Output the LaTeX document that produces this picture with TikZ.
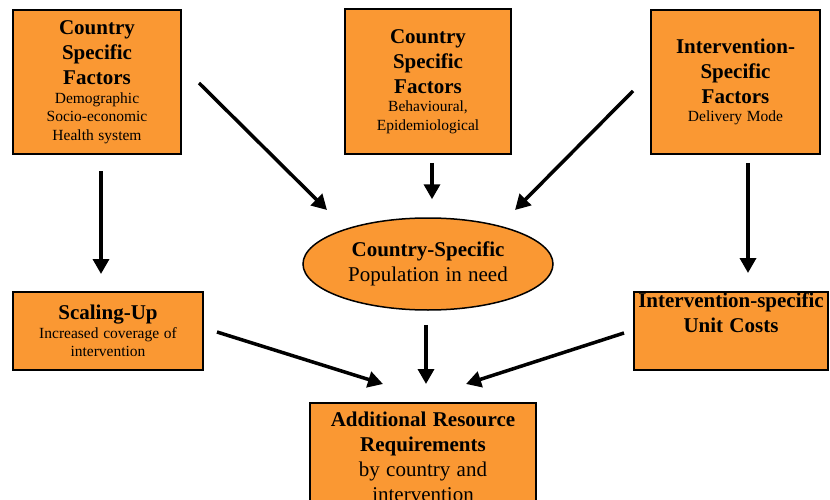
\documentclass[tikz,border=0pt]{standalone}
\usepackage{fontspec}
\setmainfont{Liberation Serif}
\usetikzlibrary{arrows.meta,shapes.geometric}
\definecolor{facorange}{RGB}{250,152,51}
\newcommand{\boxtitle}[1]{{\fontsize{21}{25}\selectfont\bfseries\spaceskip=0.3em #1\par}}
\newcommand{\boxnote}[1]{{\fontsize{15.5}{18.5}\selectfont\spaceskip=0.3em #1\par}}
\newcommand{\boxtext}[1]{{\fontsize{21}{25}\selectfont\spaceskip=0.3em #1\par}}

\begin{document}
\begin{tikzpicture}[x=1pt,y=-1pt,>={Triangle[length=15pt,width=16pt]},
  facbox/.style={draw=black,line width=2pt,fill=facorange,inner sep=1pt,align=center},
  conn/.style={->,line width=3.5pt}]
  \useasboundingbox (0,0) rectangle (830,500);
  \clip (0,0) rectangle (830,500);
  % factor boxes
  \node[facbox,minimum width=168pt,minimum height=144pt,text width=164pt] (cs1) at (97,82)
    {\boxtitle{Country\\Specific\\Factors}\boxnote{Demographic\\Socio-economic\\Health system}};
  \node[facbox,minimum width=166pt,minimum height=145pt,text width=162pt] (cs2) at (428,81.5)
    {\boxtitle{Country\\Specific\\Factors}\boxnote{Behavioural,\\Epidemiological}};
  \node[facbox,minimum width=169pt,minimum height=144pt,text width=165pt] (cs3) at (735.5,82)
    {\boxtitle{Intervention-\\Specific\\Factors}\boxnote{Delivery Mode}};
  \node[facbox,ellipse,line width=1.5pt,minimum width=250pt,minimum height=92pt,text width=170pt] (pop) at (428,264)
    {\boxtitle{Country-Specific}\boxtext{Population in need}};
  \node[facbox,minimum width=190pt,minimum height=78pt,text width=186pt] (scale) at (108,331)
    {\boxtitle{Scaling-Up}\boxnote{Increased coverage of\\intervention}};
  \node[facbox,minimum width=194pt,minimum height=78pt] (ucost) at (731,331) {};
  \node[anchor=north,align=center,text width=194pt,inner sep=2pt] (ucosttxt) at (ucost.north)
    {\boxtitle{Intervention-specific\\Unit Costs}};
  \node[facbox,minimum width=226pt,minimum height=108pt,text width=222pt] (res) at (423,457)
    {\boxtitle{Additional Resource\\Requirements}\boxtext{by country and\\intervention}};
  % arrows
  \draw[conn] ([shift={(4,16)}]cs1.south) -- ([shift={(-7,-17)}]scale.north);
  \draw[conn] ([shift={(17,1)}]cs1.east) -- ([shift={(-101,-54)}]pop.center);
  \draw[conn] ([shift={(4,8)}]cs2.south) -- ([shift={(4,-18)}]pop.north);
  \draw[conn] ([shift={(-17,9)}]cs3.west) -- ([shift={(87,-54)}]pop.center);
  \draw[conn] ([shift={(12.5,8)}]cs3.south) -- ([shift={(17,-18)}]ucost.north);
  \draw[conn] ([shift={(13,1)}]scale.east) -- ([shift={(-40,-18)}]res.north);
  \draw[conn] ([shift={(-2,14)}]pop.south) -- ([shift={(3,-18)}]res.north);
  \draw[conn] ([shift={(-9,2)}]ucost.west) -- ([shift={(43,-18)}]res.north);
\end{tikzpicture}
\end{document}
